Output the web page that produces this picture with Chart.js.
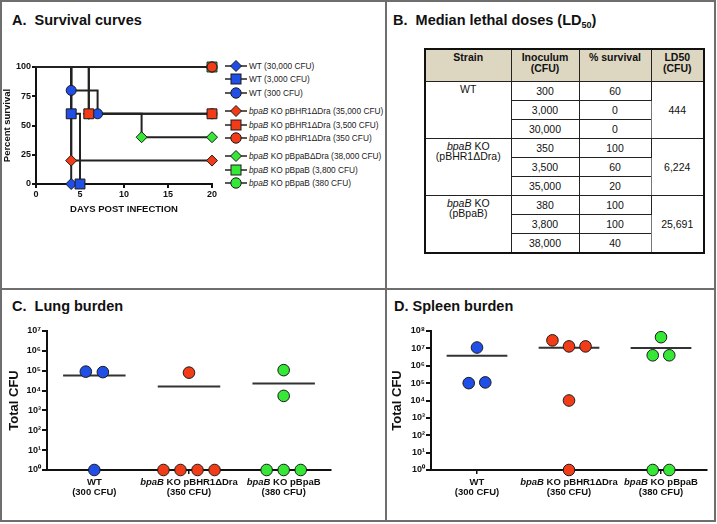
<!DOCTYPE html>
<html><head><meta charset="utf-8">
<script src="https://cdn.jsdelivr.net/npm/chart.js@4.4.1/dist/chart.umd.min.js"></script>
<style>
html,body{margin:0;padding:0;background:#fff;}
#root{position:relative;width:717px;height:524px;overflow:hidden;font-family:"Liberation Sans",Arial,Helvetica,sans-serif;color:#111;background:#fff;}
.frame{position:absolute;left:0;top:0;width:712px;height:518px;border:2px solid #6e6e6e;}
.vdiv{position:absolute;left:385px;top:0;width:2px;height:522px;background:#6e6e6e;}
.hdiv{position:absolute;left:0;top:288px;width:716px;height:2px;background:#6e6e6e;}
.title{position:absolute;font-weight:bold;font-size:14.5px;line-height:17px;white-space:pre;color:#111;}
.title sub{font-size:9px;vertical-align:-3px;line-height:0;}
.box{position:absolute;}
.box canvas{display:block;}
.lg{position:absolute;left:225px;height:12px;white-space:nowrap;font-size:8.3px;color:#222;}
.lg svg{position:absolute;left:0;top:0;}
.lg span{position:absolute;left:24px;top:0;line-height:12px;}
#ld{position:absolute;left:424px;top:48px;width:279px;border-collapse:collapse;table-layout:fixed;border:2px solid #111;font-size:10.5px;color:#111;}
#ld th{background:#ddd6c1;font-weight:bold;height:29px;padding:2px 0 0 0;vertical-align:top;line-height:11px;border:1px solid #222;text-align:center;}
#ld td{height:18px;padding:0;text-align:center;vertical-align:middle;border:1px solid #222;line-height:12px;}
#ld td.st{vertical-align:top;padding-top:3px;line-height:9.5px;}
#ld td.l5{border-left:1px solid #777;}
</style></head>
<body><div id="root">
<div class="frame"></div><div class="vdiv"></div><div class="hdiv"></div>
<div class="title" style="left:12px;top:12px;">A.  Survival curves</div>
<div class="title" style="left:393px;top:12px;">B.  Median lethal doses (LD<sub>50</sub>)</div>
<div class="title" style="left:12px;top:298px;">C.  Lung burden</div>
<div class="title" style="left:394px;top:298px;">D. Spleen burden</div>
<div class="box" style="left:0px;top:50px;"><canvas id="cA" width="222" height="180"></canvas></div>
<div id="legendA"></div>
<table id="ld"><colgroup><col style="width:86px"><col style="width:68px"><col style="width:72px"><col style="width:53px"></colgroup><tbody id="ldBody"></tbody></table>
<div class="box" style="left:0px;top:310px;"><canvas id="cC" width="345" height="190"></canvas></div>
<div class="box" style="left:384px;top:310px;"><canvas id="cD" width="331" height="190"></canvas></div>
</div>
<script>
// ---------- DATA ----------
// Panel A: survival curves (days, percent survival)
const wt30000Days = [0, 4];          const wt30000Surv = [100, 0];
const wt3000Days  = [0, 4, 5];       const wt3000Surv  = [100, 60, 0];
const wt300Days   = [0, 4, 7, 20];   const wt300Surv   = [100, 80, 60, 60];
const ko35000Days = [0, 4, 20];      const ko35000Surv = [100, 20, 20];
const ko3500Days  = [0, 6, 20];      const ko3500Surv  = [100, 60, 60];
const ko350Days   = [0, 20];         const ko350Surv   = [100, 100];
const cp38000Days = [0, 6, 12, 20];  const cp38000Surv = [100, 60, 40, 40];
const cp3800Days  = [0, 20];         const cp3800Surv  = [100, 100];
const cp380Days   = [0, 20];         const cp380Surv   = [100, 100];
const legendStrains = ['WT','WT','WT','bpaB KO pBHR1ΔDra','bpaB KO pBHR1ΔDra','bpaB KO pBHR1ΔDra','bpaB KO pBpaBΔDra','bpaB KO pBpaB','bpaB KO pBpaB'];
const legendDoses = ['30,000','3,000','300','35,000','3,500','350','38,000','3,800','380'];
const survXTicks = [0, 5, 10, 15, 20];
const survYTicks = [0, 25, 50, 75, 100];

// Panel B: LD50 table
const tableStrains = [['WT'], ['bpaB KO', '(pBHR1ΔDra)'], ['bpaB KO', '(pBpaB)']];
const tableInocula = [['300','3,000','30,000'], ['350','3,500','35,000'], ['380','3,800','38,000']];
const tableSurvival = [['60','0','0'], ['100','60','20'], ['100','100','40']];
const tableLD50 = ['444', '6,224', '25,691'];

// Panels C/D: organ burden (total CFU per animal)
const burdenGroups = ['WT', 'bpaB KO pBHR1ΔDra', 'bpaB KO pBpaB'];
const burdenDoses = ['(300 CFU)', '(350 CFU)', '(380 CFU)'];
const lungWT    = [9e4, 8.5e4, 1];
const lungKO    = [8e4, 1, 1, 1, 1];
const lungComp  = [1.07e5, 5.4e3, 1, 1, 1];
const lungMeans = [5.8e4, 1.6e4, 2.25e4];
const spleenWT    = [1.12e7, 1e5, 1.1e5];
const spleenKO    = [2.9e7, 1.3e7, 1.3e7, 1e4, 1];
const spleenComp  = [4.4e7, 4e6, 4e6, 1, 1];
const spleenMeans = [3.8e6, 1.1e7, 1.04e7];
const lungExps = [0,1,2,3,4,5,6,7];
const spleenExps = [0,1,2,3,4,5,6,7,8];

// ---------- STYLE ----------
const BLUE = '#1f4fe6', RED = '#f23c18', GREEN = '#36e836';
const FAM = '"Liberation Sans", Arial, Helvetica, sans-serif';
const INK = '#111';
Chart.defaults.font.family = FAM;
Chart.defaults.color = INK;

// ---------- PANEL A ----------
const survSeries = [
  {days: wt30000Days, surv: wt30000Surv, color: BLUE,  shape: 'rectRot', r: 5.5, order: 8},
  {days: wt3000Days,  surv: wt3000Surv,  color: BLUE,  shape: 'rect',    r: 7,   order: 7},
  {days: wt300Days,   surv: wt300Surv,   color: BLUE,  shape: 'circle',  r: 5,   order: 6},
  {days: ko35000Days, surv: ko35000Surv, color: RED,   shape: 'rectRot', r: 5.5, order: 5},
  {days: ko3500Days,  surv: ko3500Surv,  color: RED,   shape: 'rect',    r: 7,   order: 2},
  {days: ko350Days,   surv: ko350Surv,   color: RED,   shape: 'circle',  r: 5,   order: 1},
  {days: cp38000Days, surv: cp38000Surv, color: GREEN, shape: 'rectRot', r: 5.5, order: 9},
  {days: cp3800Days,  surv: cp3800Surv,  color: GREEN, shape: 'rect',    r: 7,   order: 3},
  {days: cp380Days,   surv: cp380Surv,   color: GREEN, shape: 'circle',  r: 5,   order: 4}
];
const survDatasets = [];
survSeries.forEach(s => {
  const pts = s.days.map((d, i) => ({x: d, y: s.surv[i]}));
  survDatasets.push({type: 'line', data: pts, stepped: true, borderColor: '#222', borderWidth: 2,
    pointRadius: 0, fill: false, order: 30, clip: false, borderCapStyle: 'square'});
  survDatasets.push({type: 'scatter', data: pts.slice(1), showLine: false, pointStyle: s.shape,
    pointRadius: s.r, pointHoverRadius: s.r, backgroundColor: s.color, borderColor: '#1a1a1a',
    borderWidth: 1, order: s.order, clip: false});
});
const tickFont = {family: FAM, size: 9, weight: 'bold'};
new Chart(document.getElementById('cA'), {
  type: 'scatter',
  data: {datasets: survDatasets},
  options: {
    responsive: false, animation: false, events: [],
    layout: {padding: {top: 17, right: 10, bottom: 6, left: 0}},
    plugins: {legend: {display: false}, tooltip: {enabled: false}},
    scales: {
      x: {type: 'linear', min: 0, max: 20,
        afterBuildTicks: s => { s.ticks = survXTicks.map(v => ({value: v})); },
        afterFit: s => { s.height = 40; },
        ticks: {font: tickFont, color: INK, padding: 1, maxRotation: 0, autoSkip: false},
        grid: {display: true, drawOnChartArea: false, drawTicks: true, tickLength: 4, color: '#111', lineWidth: 2},
        border: {display: true, color: '#111', width: 2},
        title: {display: true, text: 'DAYS POST INFECTION', font: {family: FAM, size: 9.5, weight: 'bold'}, color: INK, padding: {top: 0, bottom: 9}}
      },
      y: {type: 'linear', min: 0, max: 100,
        afterBuildTicks: s => { s.ticks = survYTicks.map(v => ({value: v})); },
        afterFit: s => { s.width = 36; },
        ticks: {font: tickFont, color: INK, padding: 1, autoSkip: false},
        grid: {display: true, drawOnChartArea: false, drawTicks: true, tickLength: 4, color: '#111', lineWidth: 2},
        border: {display: true, color: '#111', width: 2},
        title: {display: true, text: 'Percent survival', font: {family: FAM, size: 9.5, weight: 'bold'}, color: INK, padding: {top: 2, bottom: 0}}
      }
    }
  }
});

// legend for panel A
(function () {
  const host = document.getElementById('legendA');
  const svgNS = 'http://www.w3.org/2000/svg';
  survSeries.forEach((s, i) => {
    const group = Math.floor(i / 3);
    const cy = 66 + i * 13.3 + group * 5.3;
    const row = document.createElement('div');
    row.className = 'lg';
    row.style.top = (cy - 6) + 'px';
    const svg = document.createElementNS(svgNS, 'svg');
    svg.setAttribute('width', '23'); svg.setAttribute('height', '12');
    const ln = document.createElementNS(svgNS, 'line');
    ln.setAttribute('x1', '0'); ln.setAttribute('x2', '22'); ln.setAttribute('y1', '6'); ln.setAttribute('y2', '6');
    ln.setAttribute('stroke', '#222'); ln.setAttribute('stroke-width', '1.5');
    svg.appendChild(ln);
    let shp;
    if (s.shape === 'circle') {
      shp = document.createElementNS(svgNS, 'circle');
      shp.setAttribute('cx', '11'); shp.setAttribute('cy', '6'); shp.setAttribute('r', '5.2');
    } else if (s.shape === 'rect') {
      shp = document.createElementNS(svgNS, 'rect');
      shp.setAttribute('x', '6'); shp.setAttribute('y', '1'); shp.setAttribute('width', '10'); shp.setAttribute('height', '10');
    } else {
      shp = document.createElementNS(svgNS, 'polygon');
      shp.setAttribute('points', '11,0.5 16.5,6 11,11.5 5.5,6');
    }
    shp.setAttribute('fill', s.color); shp.setAttribute('stroke', '#1a1a1a'); shp.setAttribute('stroke-width', '1');
    svg.appendChild(shp);
    row.appendChild(svg);
    const sp = document.createElement('span');
    const name = legendStrains[i];
    if (name.startsWith('bpaB')) {
      const it = document.createElement('i'); it.textContent = 'bpaB';
      sp.appendChild(it);
      sp.appendChild(document.createTextNode(name.slice(4) + ' (' + legendDoses[i] + ' CFU)'));
    } else {
      sp.textContent = name + ' (' + legendDoses[i] + ' CFU)';
    }
    row.appendChild(sp);
    host.appendChild(row);
  });
})();

// ---------- PANEL B table ----------
(function () {
  const body = document.getElementById('ldBody');
  const hdr = document.createElement('tr');
  ['Strain', 'Inoculum<br>(CFU)', '% survival', 'LD50<br>(CFU)'].forEach(h => {
    const th = document.createElement('th'); th.innerHTML = h; hdr.appendChild(th);
  });
  body.appendChild(hdr);
  tableStrains.forEach((st, g) => {
    tableInocula[g].forEach((inoc, k) => {
      const tr = document.createElement('tr');
      if (k === 0) {
        const td = document.createElement('td'); td.rowSpan = 3; td.className = 'st';
        st.forEach((line, li) => {
          if (li > 0) td.appendChild(document.createElement('br'));
          if (line.startsWith('bpaB')) {
            const it = document.createElement('i'); it.textContent = 'bpaB';
            td.appendChild(it); td.appendChild(document.createTextNode(line.slice(4)));
          } else td.appendChild(document.createTextNode(line));
        });
        tr.appendChild(td);
      }
      const a = document.createElement('td'); a.textContent = inoc; tr.appendChild(a);
      const b = document.createElement('td'); b.textContent = tableSurvival[g][k]; tr.appendChild(b);
      if (k === 0) {
        const c = document.createElement('td'); c.rowSpan = 3; c.className = 'l5'; c.textContent = tableLD50[g]; tr.appendChild(c);
      }
      body.appendChild(tr);
    });
  });
})();

// ---------- PANELS C / D ----------
function sup(n) { const m = '⁰¹²³⁴⁵⁶⁷⁸⁹'; return String(n).split('').map(c => m[+c]).join(''); }
function swarmOffsets(vals, step, tol) {
  const lv = vals.map(v => Math.log10(v));
  const idx = vals.map((v, i) => i).sort((a, b) => lv[b] - lv[a]);
  const rows = [];
  idx.forEach(i => {
    const r = rows[rows.length - 1];
    if (r && lv[r[0]] - lv[i] <= tol) r.push(i); else rows.push([i]);
  });
  const off = new Array(vals.length).fill(0);
  rows.forEach(r => { r.sort((a, b) => a - b); r.forEach((i, k) => { off[i] = (k - (r.length - 1) / 2) * step; }); });
  return off;
}
const richXLabels = {
  id: 'richXLabels',
  afterDraw(chart) {
    const ctx = chart.ctx, xs = chart.scales.x, base = chart.chartArea.bottom;
    const size = 9.5;
    burdenGroups.forEach((name, i) => {
      const cx = xs.getPixelForValue(i + 1);
      const lines = [
        name.startsWith('bpaB') ? [{t: 'bpaB', it: true}, {t: name.slice(4), it: false}] : [{t: name, it: false}],
        [{t: burdenDoses[i], it: false}]
      ];
      lines.forEach((segs, li) => {
        const y = base + 12 + li * 10.2;
        const fonts = segs.map(s => (s.it ? 'italic ' : '') + 'bold ' + size + 'px ' + FAM);
        let total = 0;
        segs.forEach((s, k) => { ctx.font = fonts[k]; total += ctx.measureText(s.t).width; });
        let x = cx - total / 2;
        ctx.save(); ctx.fillStyle = INK; ctx.textBaseline = 'middle'; ctx.textAlign = 'left';
        segs.forEach((s, k) => { ctx.font = fonts[k]; ctx.fillText(s.t, x, y); x += ctx.measureText(s.t).width; });
        ctx.restore();
      });
    });
  }
};
const dotColors = [BLUE, RED, GREEN];
function burdenChart(id, groups, means, exps, titlePad, padRight) {
  const datasets = [];
  groups.forEach((vals, g) => {
    const off = swarmOffsets(vals, 0.18, 0.5);
    datasets.push({type: 'scatter', data: vals.map((v, i) => ({x: g + 1 + off[i], y: v})),
      backgroundColor: dotColors[g], borderColor: '#1a1a1a', borderWidth: 1, pointRadius: 5.8, pointHoverRadius: 5.8,
      order: 1, clip: false});
    datasets.push({type: 'line', data: [{x: g + 1 - 0.33, y: means[g]}, {x: g + 1 + 0.33, y: means[g]}],
      borderColor: '#333', borderWidth: 2, pointRadius: 0, fill: false, order: 2, clip: false});
  });
  new Chart(document.getElementById(id), {
    type: 'scatter',
    data: {datasets},
    plugins: [richXLabels],
    options: {
      responsive: false, animation: false, events: [],
      layout: {padding: {top: 21, right: padRight, bottom: 0, left: 0}},
      plugins: {legend: {display: false}, tooltip: {enabled: false}},
      scales: {
        x: {type: 'linear', min: 0.5, max: 3.5,
          afterBuildTicks: s => { s.ticks = groups.map((v, g) => ({value: g + 1})); },
          afterFit: s => { s.height = 30; },
          ticks: {display: false},
          grid: {display: true, drawOnChartArea: false, drawTicks: true, tickLength: 4, color: '#111', lineWidth: 1.5},
          border: {display: true, color: '#111', width: 2}
        },
        y: {type: 'logarithmic', min: 10 ** exps[0], max: 10 ** exps[exps.length - 1],
          afterBuildTicks: s => { s.ticks = exps.map(e => ({value: 10 ** e})); },
          afterFit: s => { s.width = 47; },
          ticks: {callback: v => '10' + sup(Math.round(Math.log10(v))), font: tickFont, color: INK, padding: 1, autoSkip: false},
          grid: {display: true, drawOnChartArea: false, drawTicks: true, tickLength: 5, color: '#111', lineWidth: 2},
          border: {display: true, color: '#111', width: 2},
          title: {display: true, text: 'Total CFU', font: {family: FAM, size: 13, weight: 'bold'}, color: INK, padding: {top: titlePad, bottom: 0}}
        }
      }
    }
  });
}
burdenChart('cC', [lungWT, lungKO, lungComp], lungMeans, lungExps, 7, 14);
burdenChart('cD', [spleenWT, spleenKO, spleenComp], spleenMeans, spleenExps, 6, 8);
</script>
</body></html>
